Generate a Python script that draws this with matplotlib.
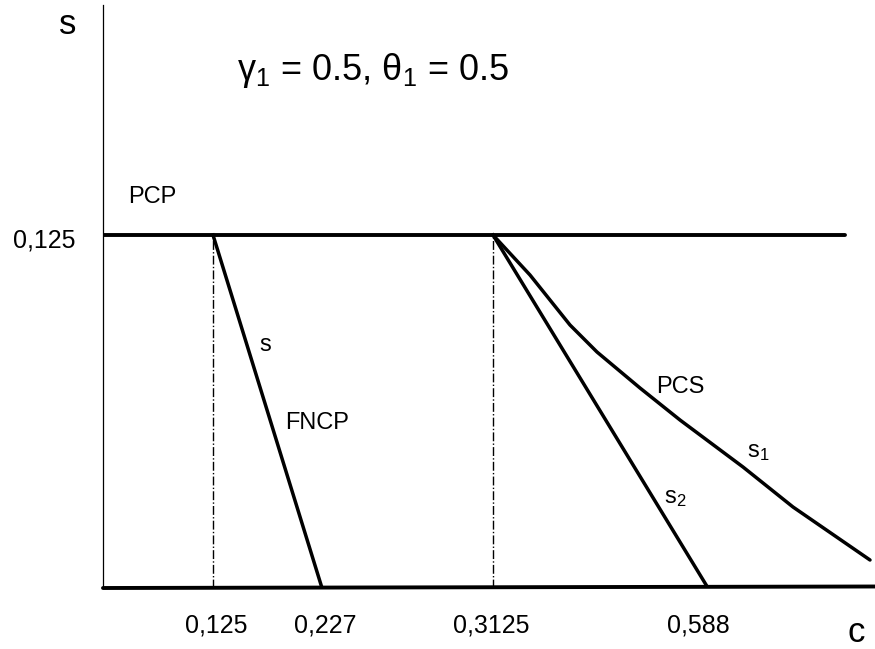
import numpy as np
import matplotlib
matplotlib.use("Agg")
import matplotlib.pyplot as plt
import matplotlib.transforms as mtransforms

plt.rcParams['font.family'] = ['Liberation Sans', 'DejaVu Sans']
plt.rcParams['mathtext.fontset'] = 'custom'
plt.rcParams['mathtext.rm'] = 'Liberation Sans'
plt.rcParams['mathtext.it'] = 'Liberation Sans'

# schematic coordinates (diagram units, not to scale)
s_top = 353          # level of PCP line (s = 0.125)
axis_top = 583
x_end_pcp = 742
x_end_bottom = 772

# FNCP line: from the PCP level down to c axis
fncp_x = [110, 219]
fncp_y = [s_top, 0]

# s2 straight line
s2_x = [390, 605]
s2_y = [s_top, 0]

# s1 (PCS) curve
s1_x = [390, 427, 467, 494, 537, 577, 640, 690, 767]
s1_y = [353, 313, 263, 236, 200, 168, 121, 81, 28]

# dash-dot guides
guide_x = [110, 390]

c_tick_pos = [113, 222, 388, 595]
c_tick_labels = ['0,125', '0,227', '0,3125', '0,588']

fig = plt.figure(figsize=(8.75, 6.49), dpi=100)
ax = fig.add_axes([103 / 875, 61 / 649, 772 / 875, 583 / 649])
ax.set_xlim(0, x_end_bottom)
ax.set_ylim(0, axis_top)
for sp in ax.spines.values():
    sp.set_visible(False)

# axes lines
ax.plot([0, 0], [0, axis_top], color='black', lw=0.9, clip_on=False)
ax.plot([0, x_end_bottom], [0, 1.5], color='black', lw=2.8, clip_on=False,
        solid_capstyle='round')
ax.plot([0, x_end_pcp], [s_top, s_top], color='black', lw=2.8,
        solid_capstyle='round')

for gx in guide_x:
    ax.plot([gx, gx], [0, s_top], color='black', lw=1.0, ls='-.')

ax.plot(fncp_x, fncp_y, color='black', lw=2.5)
ax.plot(s2_x, s2_y, color='black', lw=2.5)
ax.plot(s1_x, s1_y, color='black', lw=2.5, solid_capstyle='round',
        solid_joinstyle='round')

ax.set_xticks(c_tick_pos)
ax.set_xticklabels(c_tick_labels, fontsize=18)
ax.set_yticks([s_top])
ax.set_yticklabels(['0,125'], fontsize=18, va='center')
ax.tick_params(axis='x', length=0, pad=18)
ax.tick_params(axis='y', length=0, pad=20)
# nudge the s label a little below the line, like the original
shift = mtransforms.ScaledTranslation(0, -4 / 72, fig.dpi_scale_trans)
for lab in ax.get_yticklabels():
    lab.set_transform(lab.get_transform() + shift)

# axis names
ax.text(-35, axis_top - 20, 's', fontsize=25, ha='center', va='center')
ax.text(753, -44, 'c', fontsize=25, ha='center', va='center')

ax.text(270, 517, r'γ$_1$ = 0.5, θ$_1$ = 0.5', fontsize=26, ha='center',
        va='center')

ax.text(49, 391, 'PCP', fontsize=17, ha='center', va='center')
ax.text(162, 243, 's', fontsize=17, ha='center', va='center')
ax.text(214, 165, 'FNCP', fontsize=17, ha='center', va='center')
ax.text(577, 201, 'PCS', fontsize=17, ha='center', va='center')
ax.text(655, 136, r's$_1$', fontsize=17, ha='center', va='center')
ax.text(572, 90, r's$_2$', fontsize=17, ha='center', va='center')

fig.savefig('out.png', dpi=100)
